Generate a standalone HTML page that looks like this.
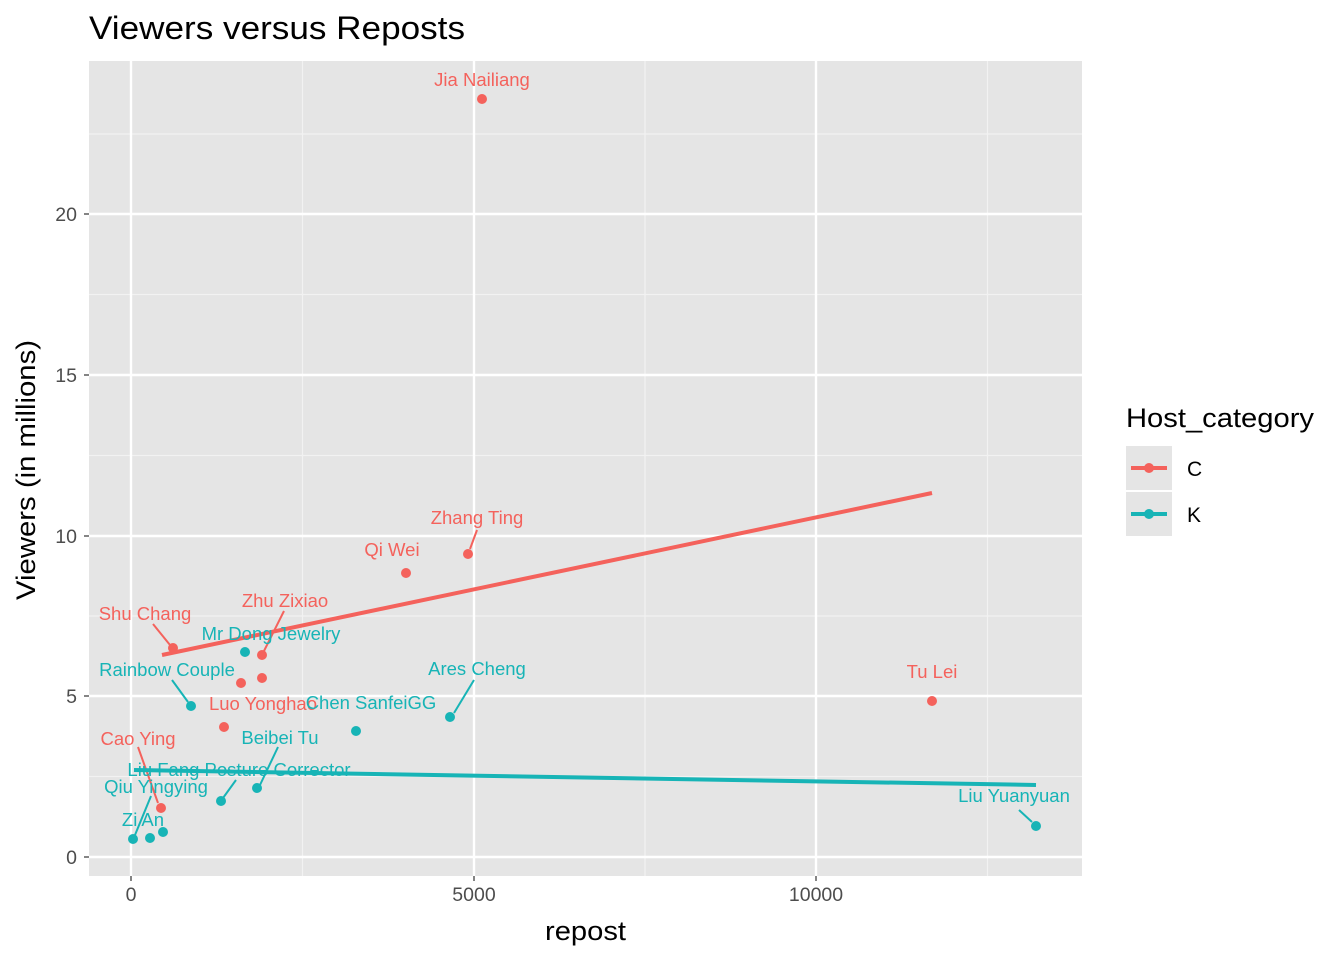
<!DOCTYPE html><html><head><style>body{margin:0;background:#fff}svg{display:block;font-family:"Liberation Sans",Arial,sans-serif}</style></head><body>
<svg width="1344" height="960" xmlns="http://www.w3.org/2000/svg">
<rect x="89" y="61" width="993" height="815" fill="#e5e5e5"/>
<g stroke="#f2f2f2" stroke-width="1.2">
<line x1="302.5" y1="61" x2="302.5" y2="876"/><line x1="645" y1="61" x2="645" y2="876"/><line x1="987.5" y1="61" x2="987.5" y2="876"/>
<line x1="89" y1="776.5" x2="1082" y2="776.5"/><line x1="89" y1="616" x2="1082" y2="616"/><line x1="89" y1="455.5" x2="1082" y2="455.5"/><line x1="89" y1="294.5" x2="1082" y2="294.5"/><line x1="89" y1="134" x2="1082" y2="134"/>
</g>
<g stroke="#fff" stroke-width="2.4">
<line x1="131" y1="61" x2="131" y2="876"/><line x1="474" y1="61" x2="474" y2="876"/><line x1="816" y1="61" x2="816" y2="876"/>
<line x1="89" y1="857" x2="1082" y2="857"/><line x1="89" y1="696" x2="1082" y2="696"/><line x1="89" y1="536" x2="1082" y2="536"/><line x1="89" y1="375" x2="1082" y2="375"/><line x1="89" y1="214" x2="1082" y2="214"/>
</g>
<g fill="#f4625c"><circle cx="482" cy="99" r="5"/><circle cx="468" cy="554" r="5"/><circle cx="406" cy="573" r="5"/><circle cx="932" cy="701" r="5"/><circle cx="173" cy="648" r="5"/><circle cx="262" cy="655" r="5"/><circle cx="241" cy="683" r="5"/><circle cx="262" cy="678" r="5"/><circle cx="224" cy="727" r="5"/><circle cx="161" cy="808" r="5"/></g>
<g fill="#17b4b6"><circle cx="245" cy="652" r="5"/><circle cx="191" cy="706" r="5"/><circle cx="356" cy="731" r="5"/><circle cx="450" cy="717" r="5"/><circle cx="257" cy="788" r="5"/><circle cx="221" cy="801" r="5"/><circle cx="133" cy="839" r="5"/><circle cx="150" cy="838" r="5"/><circle cx="163" cy="832" r="5"/><circle cx="1036" cy="826" r="5"/></g>
<g stroke="#f4625c" stroke-width="2"><line x1="153" y1="624" x2="170" y2="645"/><line x1="284" y1="611" x2="264" y2="651"/><line x1="138" y1="747" x2="158" y2="803"/><line x1="477" y1="530" x2="470" y2="549"/></g>
<g stroke="#17b4b6" stroke-width="2"><line x1="172" y1="680" x2="188" y2="702"/><line x1="278" y1="747" x2="260" y2="785"/><line x1="236" y1="780" x2="223" y2="798"/><line x1="151" y1="796" x2="135" y2="835"/><line x1="474" y1="680" x2="454" y2="713"/><line x1="1019" y1="810" x2="1032" y2="822"/></g>
<line x1="162" y1="655" x2="932" y2="493" stroke="#f4625c" stroke-width="4"/>
<line x1="134" y1="770" x2="1036" y2="785" stroke="#17b4b6" stroke-width="4"/>
<g font-size="18.5" text-anchor="middle" fill="#f4625c">
<text x="482" y="86">Jia Nailiang</text><text x="477" y="524">Zhang Ting</text><text x="392" y="556">Qi Wei</text><text x="932" y="678">Tu Lei</text><text x="145" y="620">Shu Chang</text><text x="285" y="607">Zhu Zixiao</text><text x="263" y="710">Luo Yonghao</text><text x="138" y="745">Cao Ying</text></g>
<g font-size="18.5" text-anchor="middle" fill="#17b4b6">
<text x="271" y="640">Mr Dong Jewelry</text><text x="167" y="676">Rainbow Couple</text><text x="371" y="709">Chen SanfeiGG</text><text x="477" y="675">Ares Cheng</text><text x="280" y="744">Beibei Tu</text><text x="239" y="776">Liu Fang Posture Corrector</text><text x="156" y="793">Qiu Yingying</text><text x="143" y="826">Zi An</text><text x="1014" y="802">Liu Yuanyuan</text></g>
<g stroke="#333" stroke-width="1.2"><line x1="131" y1="876" x2="131" y2="881"/><line x1="474" y1="876" x2="474" y2="881"/><line x1="816" y1="876" x2="816" y2="881"/>
<line x1="84" y1="857" x2="89" y2="857"/><line x1="84" y1="696" x2="89" y2="696"/><line x1="84" y1="536" x2="89" y2="536"/><line x1="84" y1="375" x2="89" y2="375"/><line x1="84" y1="214" x2="89" y2="214"/></g>
<g font-size="19.5" fill="#4d4d4d" text-anchor="middle"><text x="131" y="901">0</text><text x="474" y="901">5000</text><text x="816" y="901">10000</text></g>
<g font-size="19.5" fill="#4d4d4d" text-anchor="end"><text x="77" y="864">0</text><text x="77" y="703">5</text><text x="77" y="543">10</text><text x="77" y="382">15</text><text x="77" y="221">20</text></g>
<text x="545" y="940" font-size="27" textLength="81" lengthAdjust="spacingAndGlyphs">repost</text>
<text transform="translate(35,600) rotate(-90)" font-size="27" textLength="260" lengthAdjust="spacingAndGlyphs">Viewers (in millions)</text>
<text x="89" y="39" font-size="32" textLength="376" lengthAdjust="spacingAndGlyphs">Viewers versus Reposts</text>
<text x="1126" y="427" font-size="27" textLength="188" lengthAdjust="spacingAndGlyphs">Host_category</text>
<rect x="1126" y="446" width="46" height="44" fill="#e5e5e5"/><rect x="1126" y="492" width="46" height="44" fill="#e5e5e5"/>
<line x1="1131" y1="468" x2="1167" y2="468" stroke="#f4625c" stroke-width="4"/><circle cx="1149" cy="468" r="5" fill="#f4625c"/>
<line x1="1131" y1="514" x2="1167" y2="514" stroke="#17b4b6" stroke-width="4"/><circle cx="1149" cy="514" r="5" fill="#17b4b6"/>
<text x="1187" y="476" font-size="21">C</text><text x="1187" y="522" font-size="21">K</text>
</svg></body></html>
